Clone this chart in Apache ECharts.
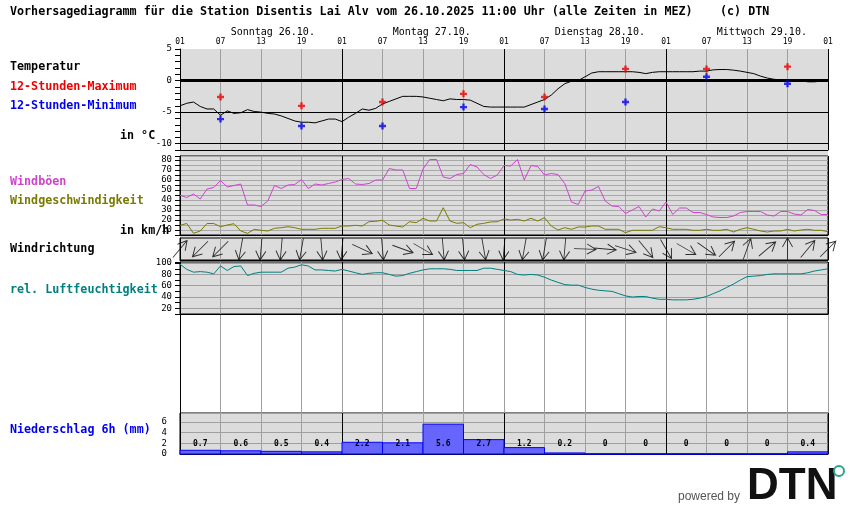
<!DOCTYPE html>
<html><head><meta charset="utf-8">
<script src="https://cdn.jsdelivr.net/npm/echarts@6/dist/echarts.min.js"></script>
<style>html,body{margin:0;padding:0;background:#fff}#c{width:850px;height:524px}</style>
</head><body><div id="c"></div>
<script>
// ---------- data ----------
const hourTickLabels = ['01','07','13','19'];
const dayLabels = ['Sonntag 26.10.','Montag 27.10.','Dienstag 28.10.','Mittwoch 29.10.'];
// hourly temperature (°C), hour 0 = 26.10. 01 Uhr
const temperature = [-4.0,-3.6,-3.4,-4.1,-4.5,-4.5,-5.5,-4.8,-5.2,-5.1,-4.6,-4.9,-5.0,-5.2,-5.3,-5.6,-6.0,-6.4,-6.6,-6.6,-6.7,-6.4,-6.1,-6.1,
 -6.5,-5.8,-5.2,-4.5,-4.7,-4.4,-3.7,-3.3,-2.9,-2.5,-2.5,-2.5,-2.6,-2.8,-3.0,-3.2,-2.9,-3.0,-3.0,-3.1,-3.6,-4.1,-4.2,-4.2,
 -4.2,-4.2,-4.2,-4.2,-3.8,-3.4,-3.0,-2.3,-1.3,-0.5,-0.1,0.0,0.6,1.2,1.4,1.4,1.4,1.4,1.4,1.4,1.3,1.1,1.3,1.4,
 1.4,1.4,1.4,1.4,1.4,1.5,1.5,1.7,1.75,1.75,1.65,1.5,1.3,1.1,0.7,0.4,0.2,0.1,-0.1,0.0,0.0,-0.2,-0.2,-0.1,-0.1];
const extremeHours = [6,18,30,42,54,66,78,90];
const tempMax = [-2.6,-4.0,-3.4,-2.1,-2.6,1.85,1.85,2.2];
const tempMin = [-6.1,-7.2,-7.2,-4.2,-4.5,-3.4,0.6,-0.5];
// hourly wind gusts and wind speed (km/h)
const gusts = [44.7,42.5,46,41,51,52.5,59.5,53,54.5,56,35,35,33.5,39,54.5,51.5,55,55.5,60.5,51.5,56,55,56.5,58,
 60.5,61.5,56,55.5,56.5,60,60,71.5,70,70,51.5,51.5,71,80.5,80.5,63,61.5,65.5,66.5,75.5,73,65.5,61.5,65,
 74.5,74,80.5,60,74.5,73.5,65,66.5,65.5,56.5,38,35.5,49,50,53.5,39,34,33.5,26.5,30,33.5,23,31,29,
 38,25.5,32,32,27.5,27.5,25.5,23,22.5,22.5,24,27.5,28.5,28.5,28.5,25,24,28.5,28.5,26,25,30.5,29.5,25.5,25.5];
const windSpeed = [14.7,16.5,6.7,9,16.5,16.5,13.3,15,16.3,9,6.7,10.7,9.7,9,11.7,12.3,13.3,12.3,10.7,10.7,10.7,11.7,11.7,11.7,
 14,14,14.7,14,18.3,18.7,19.7,15,14,13,18.3,17.3,21.7,19,19,32.3,19,16.7,17.3,12.3,15.7,16.7,18,18.3,
 21,20,20.7,19,21.7,19,22.3,14,10,12.3,10.7,13,13,14,14,10.7,10.7,10.7,7.3,9.7,9.7,9.7,9.7,13.3,
 12.3,10.7,10.7,10.7,9.7,9.7,10.7,9.7,9.7,10.7,8,10.7,12.3,10.7,9,8,9,9,10.7,9,10,10.7,9.7,9.7,8.3];
// wind direction every 3 h: bearing the arrow points to (degrees, clockwise from north)
const windDirHours = [0,3,6,9,12,15,18,21,24,27,30,33,36,39,42,45,48,51,54,57,60,63,66,69,72,75,78,81,84,87,90,93,96];
const windDir = [40,225,225,190,185,185,190,175,185,115,175,110,120,175,175,170,185,190,190,185,92,95,108,140,150,120,125,45,20,50,0,40,45];
// hourly relative humidity (%)
const humidity = [98,89,84,85,84,81,95,87,94,95,78,82,84,84,84,84,91,93,97,95,88,88,87,86,
 89,86,83,80,82,83,83,80,77,78,82,85,88,90,90,90,89,87,87,87,87,91,91,89,
 87,85,80,79,80,79,75,70,66,62,61,61,57,54,52,51,50,46,42,40,41,41,38,36,
 36,35,35,35,36,38,41,46,51,57,63,70,76,77,78,80,81,81,81,81,81,83,86,88,90];
// 6-hour precipitation (mm)
const precip = [0.7,0.6,0.5,0.4,2.2,2.1,5.6,2.7,1.2,0.2,0,0,0,0,0,0.4];

// ---------- chart ----------
const MONO = 'DejaVu Sans Mono';
const chart = echarts.init(document.getElementById('c'), null, {renderer:'canvas'});
const L = 180, W = 648;
const dayGrid = ['#000000','#a0a0a0','#a0a0a0','#a0a0a0'];
function xAx(grid, colors, extra){
  return Object.assign({type:'value', gridIndex:grid, min:0, max:96, interval:6,
    axisLine:{show:true, onZero:false, lineStyle:{color:'#000', width:1}},
    axisTick:{show:false}, axisLabel:{show:false},
    splitLine:{show:true, showMinLine:true, showMaxLine:true, lineStyle:{color:colors, width:1}}}, extra||{});
}
const yLab = {fontFamily:MONO, fontSize:9, color:'#000', margin:8};
const option = {
  animation:false,
  backgroundColor:'#ffffff',
  grid:[
    {left:L, width:W, top:49, height:101, show:true, backgroundColor:'#dcdcdc', borderWidth:0},
    {left:L, width:W, top:156, height:79, show:true, backgroundColor:'#dcdcdc', borderColor:'#000', borderWidth:1},
    {left:L, width:W, top:238, height:22, show:true, backgroundColor:'#dcdcdc', borderColor:'#000', borderWidth:1},
    {left:L, width:W, top:262, height:52, show:true, backgroundColor:'#dcdcdc', borderColor:'#000', borderWidth:1},
    {left:L, width:W, top:314, height:99, show:false},
    {left:L, width:W, top:413, height:41, show:true, backgroundColor:'#dcdcdc', borderColor:'#000', borderWidth:1}
  ],
  xAxis:[
    xAx(0, dayGrid),
    {type:'value', gridIndex:0, position:'top', min:0, max:96, interval:6,
      axisLine:{show:false}, axisTick:{show:false}, splitLine:{show:false},
      axisLabel:{show:true, showMinLabel:true, showMaxLabel:true, margin:3, fontFamily:MONO, fontSize:8, color:'#000',
        formatter:v => hourTickLabels[Math.round(v/6)%4]}},
    xAx(1, dayGrid),
    xAx(2, dayGrid),
    xAx(3, dayGrid),
    xAx(4, ['#a0a0a0'], {axisLine:{show:false}}),
    xAx(5, dayGrid)
  ],
  yAxis:[
    {type:'value', gridIndex:0, min:-11, max:5, interval:1,
      axisLine:{show:true, lineStyle:{color:'#000'}}, axisTick:{show:true, length:5, lineStyle:{color:'#000'}},
      splitLine:{show:false},
      axisLabel:Object.assign({formatter:v => (v % 5 === 0 ? String(v) : '')}, yLab)},
    {type:'value', gridIndex:1, min:5, max:84, interval:5,
      axisLine:{show:true, lineStyle:{color:'#000'}}, axisTick:{show:true, length:5, lineStyle:{color:'#000'}},
      splitLine:{show:true, lineStyle:{color:'#a8a8a8', width:1}},
      axisLabel:Object.assign({formatter:v => (v % 10 === 0 ? String(v) : '')}, yLab)},
    {type:'value', gridIndex:2, min:0, max:1, show:true,
      axisLine:{show:true, lineStyle:{color:'#000'}}, axisTick:{show:false}, axisLabel:{show:false}, splitLine:{show:false}},
    {type:'value', gridIndex:3, min:10, max:102, interval:10,
      axisLine:{show:true, lineStyle:{color:'#000'}}, axisTick:{show:true, length:5, lineStyle:{color:'#000'}},
      splitLine:{show:true, lineStyle:{color:['rgba(0,0,0,0)','#a0a0a0'], width:1}},
      axisLabel:Object.assign({formatter:v => (v % 20 === 0 ? String(v) : '')}, yLab)},
    {type:'value', gridIndex:4, min:0, max:1,
      axisLine:{show:true, lineStyle:{color:'#000'}}, axisTick:{show:false}, axisLabel:{show:false}, splitLine:{show:false}},
    {type:'value', gridIndex:5, min:0, max:7.7, interval:2,
      axisLine:{show:true, lineStyle:{color:'#000'}}, axisTick:{show:false},
      splitLine:{show:true, lineStyle:{color:'#a0a0a0', width:1}},
      axisLabel:Object.assign({}, yLab, {margin:13, formatter:v => (v % 2 === 0 ? String(v) : '')})}
  ],
  series:[
    {type:'line', xAxisIndex:0, yAxisIndex:0, data:temperature.map((v,i)=>[i,v]), symbol:'none', silent:true,
      lineStyle:{color:'#000', width:1}, z:5,
      markLine:{silent:true, symbol:'none', label:{show:false}, animation:false,
        data:[{yAxis:0, lineStyle:{color:'#000', width:3, type:'solid'}},
              {yAxis:-5, lineStyle:{color:'#000', width:1, type:'solid'}},
              {yAxis:-10, lineStyle:{color:'#000', width:1, type:'solid'}}]}},
    {type:'scatter', xAxisIndex:0, yAxisIndex:0, data:extremeHours.map((h,i)=>[h,tempMax[i]]), silent:true, z:6,
      symbol:'path://M2,0h2v2h2v2h-2v2h-2v-2h-2v-2h2z', symbolSize:7, itemStyle:{color:'#ee0000'}},
    {type:'scatter', xAxisIndex:0, yAxisIndex:0, data:extremeHours.map((h,i)=>[h,tempMin[i]]), silent:true, z:6,
      symbol:'path://M2,0h2v2h2v2h-2v2h-2v-2h-2v-2h2z', symbolSize:7, itemStyle:{color:'#0000ee'}},
    {type:'line', xAxisIndex:2, yAxisIndex:1, data:gusts.map((v,i)=>[i,v]), symbol:'none', silent:true,
      lineStyle:{color:'#cc44cc', width:1}},
    {type:'line', xAxisIndex:2, yAxisIndex:1, data:windSpeed.map((v,i)=>[i,v]), symbol:'none', silent:true,
      lineStyle:{color:'#7a7a00', width:1}},
    {type:'scatter', xAxisIndex:3, yAxisIndex:2, silent:true, clip:false, z:6,
      data:windDirHours.map((h,i)=>({value:[h,0.5], symbolRotate:-windDir[i]})),
      symbol:'path://M8,22L8,0M1,9L8,0L15,9', symbolSize:[16,22], symbolKeepAspect:true,
      itemStyle:{color:'rgba(0,0,0,0)', borderColor:'#000', borderWidth:1}},
    {type:'line', xAxisIndex:4, yAxisIndex:3, data:humidity.map((v,i)=>[i,v]), symbol:'none', silent:true,
      lineStyle:{color:'#008080', width:1}},
    {type:'custom', xAxisIndex:6, yAxisIndex:5, silent:true,
      data:precip.map((v,i)=>[i*6, i*6+6, v]),
      renderItem:function(params, api){
        const s = api.value(0), e = api.value(1), v = api.value(2);
        const p0 = api.coord([s, v]), p1 = api.coord([e, 0]);
        const lab = api.coord([(s+e)/2, 1.8]);
        return {type:'group', children:[
          {type:'rect', shape:{x:p0[0], y:p0[1], width:p1[0]-p0[0], height:p1[1]-p0[1]},
            style:{fill:'#6666ff', stroke:'#0000ff', lineWidth:1}},
          {type:'text', style:{x:lab[0], y:lab[1], text:String(v), align:'center', verticalAlign:'middle',
            textAlign:'center', textVerticalAlign:'middle',
            fontFamily:MONO, fontSize:8, fontWeight:'bold', fill:'#000'}}
        ]};
      }}
  ],
  graphic:[]
};
chart.setOption(option);

function txt(id, x, y, text, fill, size, weight, extra){
  return Object.assign({type:'text', id:id, x:x, y:y, silent:true, z:100,
    style:{text:text, fill:fill, fontFamily:MONO, fontSize:size, fontWeight:weight||'normal',
      align:'left', verticalAlign:'middle', textAlign:'left', textVerticalAlign:'middle'}}, extra||{});
}
const g = [
  {type:'rect', id:'bgband', silent:true, z:-100, shape:{x:L, y:49, width:W, height:265}, style:{fill:'#dcdcdc'}},
  txt('title', 10, 12, 'Vorhersagediagramm für die Station Disentis Lai Alv vom 26.10.2025 11:00 Uhr (alle Zeiten in MEZ)', '#000', 11.7, 'bold'),
  txt('copy', 720, 12, '(c) DTN', '#000', 11.7, 'bold'),
  txt('l1', 10, 67, 'Temperatur', '#000', 11.7, 'bold'),
  txt('l2', 10, 87, '12-Stunden-Maximum', '#ee0000', 11.7, 'bold'),
  txt('l3', 10, 106, '12-Stunden-Minimum', '#0000ee', 11.7, 'bold'),
  txt('l4', 120, 136, 'in °C', '#000', 11.7, 'bold'),
  txt('l5', 10, 182, 'Windböen', '#cc44cc', 11.7, 'bold'),
  txt('l6', 10, 201, 'Windgeschwindigkeit', '#7a7a00', 11.7, 'bold'),
  txt('l7', 120, 231, 'in km/h', '#000', 11.7, 'bold'),
  txt('l8', 10, 249, 'Windrichtung', '#000', 11.7, 'bold'),
  txt('l9', 10, 290, 'rel. Luftfeuchtigkeit', '#008080', 11.7, 'bold'),
  txt('l10', 10, 430, 'Niederschlag 6h (mm)', '#0000ee', 11.7, 'bold'),
  {type:'text', id:'pw', x:678, y:497, silent:true,
    style:{text:'powered by', fill:'#555', fontFamily:'Liberation Sans', fontSize:12,
      align:'left', verticalAlign:'middle', textAlign:'left', textVerticalAlign:'middle'}},
  {type:'text', id:'logo', x:747, y:487, silent:true,
    style:{text:'DTN', fill:'#111', fontFamily:'Liberation Sans', fontSize:44, fontWeight:'bold',
      align:'left', verticalAlign:'middle', textAlign:'left', textVerticalAlign:'middle'}},
  {type:'circle', id:'logodot', silent:true, shape:{cx:839, cy:471, r:5}, style:{fill:'#fff', stroke:'#2aa58a', lineWidth:2}}
];
dayLabels.forEach((d,i)=>{
  const p = chart.convertToPixel({xAxisIndex:0, yAxisIndex:0}, [i*24+7.5, 5]);
  g.push(txt('d'+i, p[0], 32, d, '#000', 10, 'normal'));
});
chart.setOption({graphic:g});
</script>
</body></html>
